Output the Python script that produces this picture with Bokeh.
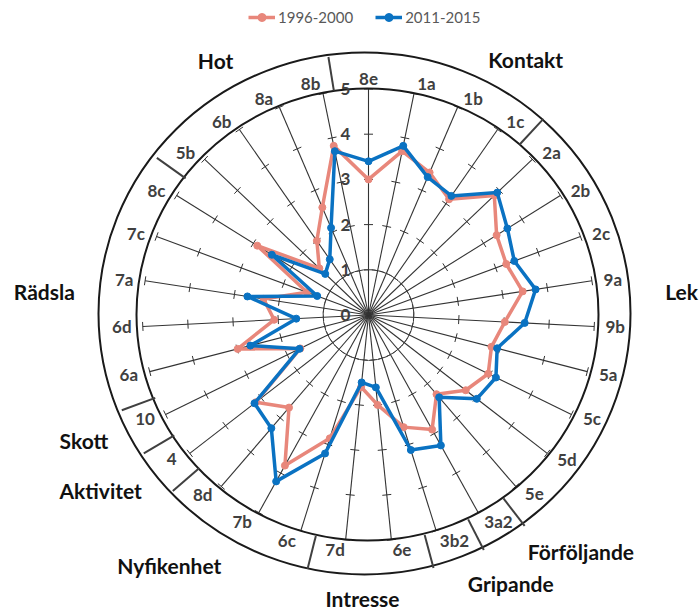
import numpy as np
from bokeh.plotting import figure
from bokeh.models import Range1d, Legend, LegendItem, ColumnDataSource
from bokeh.core.properties import value
from bokeh.embed import file_html
from bokeh.resources import INLINE

# ---------------- data ----------------
categories = ["8e", "1a", "1b", "1c", "2a", "2b", "2c", "9a", "9b", "5a", "5c",
              "5d", "5e", "3a2", "3b2", "6e", "7d", "6c", "7b", "8d", "4", "10",
              "6a", "6d", "7a", "7c", "8c", "5b", "6b", "8a", "8b"]
s_1996 = [3.00, 3.70, 3.43, 3.12, 3.84, 3.34, 3.25, 3.45, 3.02, 2.81, 2.95,
          2.72, 2.31, 2.90, 2.60, 2.00, 1.60, 2.86, 3.81, 2.70, 3.15, 1.68,
          2.99, 2.09, 2.35, 1.45, 2.90, 1.50, 2.00, 2.59, 3.82]
s_2011 = [3.40, 3.82, 3.32, 3.21, 3.93, 3.62, 3.44, 3.74, 3.46, 2.94, 3.14,
          3.03, 2.40, 3.30, 3.13, 1.61, 1.50, 3.21, 4.21, 3.30, 3.19, 1.70,
          2.70, 1.60, 2.71, 1.21, 2.52, 1.32, 1.50, 2.10, 3.70]
series_names = ["1996-2000", "2011-2015"]
tick_values = [0, 1, 2, 3, 4, 5]
group_names = ["Kontakt", "Lek", "Förföljande", "Gripande", "Intresse",
               "Nyfikenhet", "Aktivitet", "Skott", "Rädsla", "Hot"]
group_sizes = [4, 9, 1, 1, 2, 3, 1, 1, 5, 4]

# ---------------- layout / style ----------------
group_label_angle = [31.6, 85.7, 138.1, 152.1, 181.2, 218.5, 236.8, 246.2, 274.1, 329.0]
group_label_radius = [300, 314, 318, 304, 284, 320, 320, 311, 325, 297]
# angles (deg, clockwise from top) of the ring's segment separators
separator_angle = [41.3, 143.9, 154.2, 165.8, 193.3, 227.6, 238.0, 248.6, 307.0, -8.7]

PINK = "#E8877B"
BLUE = "#0A72C2"
TXT = "#404040"
FONT = "Lato"
U = 45.2          # pixels per value unit
VMAX = 5

W, H = 700, 610
CX, CY = 368.0, 314.5

p = figure(width=W, height=H, x_range=Range1d(-CX, W - CX),
           y_range=Range1d(-(H - CY), CY), output_backend="svg",
           toolbar_location=None, min_border=0,
           x_axis_type=None, y_axis_type=None)
p.grid.visible = False
p.outline_line_color = None
p.background_fill_color = "white"

n = len(categories)
theta = np.arange(n) * 2 * np.pi / n
sn, cs = np.sin(theta), np.cos(theta)

# spokes
p.segment(x0=np.zeros(n), y0=np.zeros(n), x1=VMAX * U * sn, y1=VMAX * U * cs,
          line_color="#333333", line_width=1.1)

# tick marks on spokes
tx0, ty0, tx1, ty1 = [], [], [], []
for i in range(n):
    for k in tick_values[1:]:
        mx, my = k * U * sn[i], k * U * cs[i]
        px, py = cs[i] * 4.5, -sn[i] * 4.5
        tx0.append(mx - px); ty0.append(my - py)
        tx1.append(mx + px); ty1.append(my + py)
p.segment(x0=tx0, y0=ty0, x1=tx1, y1=ty1, line_color="#333333", line_width=1)

# dashed circle at 1
p.ellipse(x=0, y=0, width=2 * U, height=2 * U, fill_color=None,
          line_color="#404040", line_width=1, line_dash="5 3")

# ring
p.ellipse(x=-1, y=0.5, width=462, height=452, fill_color=None,
          line_color="#1a1a1a", line_width=2)
p.ellipse(x=-4, y=1.5, width=532, height=522, fill_color=None,
          line_color="#1a1a1a", line_width=2)

# group separators
sa = np.radians(separator_angle)
p.segment(x0=229 * np.sin(sa), y0=227 * np.cos(sa),
          x1=265 * np.sin(sa), y1=261 * np.cos(sa),
          line_color="#404040", line_width=2)

# category labels in ring
lx, ly = [], []
for i, c in enumerate(categories):
    w = 9.5 * len(c)
    lx.append(247 * sn[i] + np.sign(np.round(sn[i], 6)) * (w / 2 - 1) * cs[i] ** 2)
    ly.append(236 * cs[i])
p.text(x=lx, y=ly, text=categories, text_font=value(FONT), text_font_style="bold",
       text_font_size="17px", text_color=TXT, text_align="center",
       text_baseline="middle")

# value tick labels
p.text(x=[-23] * len(tick_values), y=[v * U for v in tick_values],
       text=[str(v) for v in tick_values], text_font=value(FONT),
       text_font_style="bold", text_font_size="17px", text_color=TXT,
       text_align="center", text_baseline="middle")

# group labels
ga = np.radians(group_label_angle)
gr = np.array(group_label_radius)
p.text(x=gr * np.sin(ga), y=gr * np.cos(ga), text=group_names,
       text_font=value(FONT), text_font_style="bold", text_font_size="21px",
       text_color="#111111", text_align="center", text_baseline="middle")

# series
items = []
for vals, col, name in [(s_1996, PINK, series_names[0]), (s_2011, BLUE, series_names[1])]:
    v = np.array(vals)
    x = v * U * sn
    y = v * U * cs
    src = ColumnDataSource(dict(x=np.append(x, x[0]), y=np.append(y, y[0])))
    lr = p.line("x", "y", source=src, line_color=col, line_width=3.5,
                line_join="round")
    sr = p.scatter(x=x, y=y, size=7, fill_color=col, line_color=col, marker="circle")
    items.append(LegendItem(label=name, renderers=[lr, sr]))

legend = Legend(items=items, orientation="horizontal", location=(248, H - 27),
                border_line_color=None, background_fill_alpha=0,
                padding=0, margin=0, spacing=22, label_standoff=3,
                glyph_width=27, glyph_height=20, label_height=20,
                label_text_font=FONT, label_text_font_size="15px",
                label_text_color="#595959")
p.add_layout(legend)

open("out.html", "w").write(file_html(p, INLINE))
